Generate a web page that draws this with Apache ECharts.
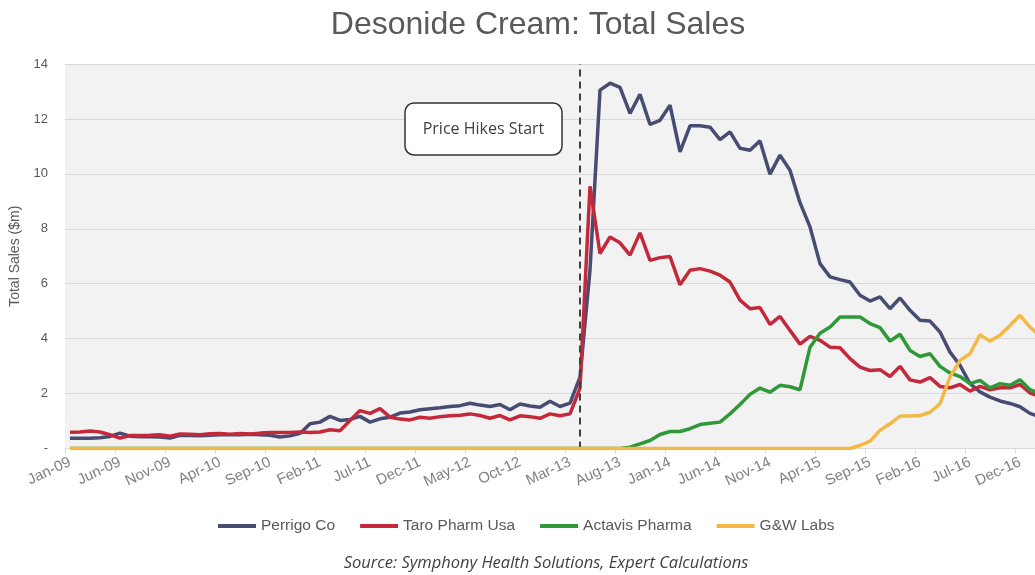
<!DOCTYPE html>
<html>
<head>
<meta charset="utf-8">
<script src="https://cdn.jsdelivr.net/npm/echarts@6/dist/echarts.min.js"></script>
<style>
html,body{margin:0;padding:0;background:#fff;overflow:hidden;}
#chart{width:1045px;height:575px;}
</style>
</head>
<body>
<div id="chart"></div>
<script>
var months = [
 'Jan-09','Feb-09','Mar-09','Apr-09','May-09','Jun-09','Jul-09','Aug-09','Sep-09','Oct-09','Nov-09','Dec-09',
 'Jan-10','Feb-10','Mar-10','Apr-10','May-10','Jun-10','Jul-10','Aug-10','Sep-10','Oct-10','Nov-10','Dec-10',
 'Jan-11','Feb-11','Mar-11','Apr-11','May-11','Jun-11','Jul-11','Aug-11','Sep-11','Oct-11','Nov-11','Dec-11',
 'Jan-12','Feb-12','Mar-12','Apr-12','May-12','Jun-12','Jul-12','Aug-12','Sep-12','Oct-12','Nov-12','Dec-12',
 'Jan-13','Feb-13','Mar-13','Apr-13','May-13','Jun-13','Jul-13','Aug-13','Sep-13','Oct-13','Nov-13','Dec-13',
 'Jan-14','Feb-14','Mar-14','Apr-14','May-14','Jun-14','Jul-14','Aug-14','Sep-14','Oct-14','Nov-14','Dec-14',
 'Jan-15','Feb-15','Mar-15','Apr-15','May-15','Jun-15','Jul-15','Aug-15','Sep-15','Oct-15','Nov-15','Dec-15',
 'Jan-16','Feb-16','Mar-16','Apr-16','May-16','Jun-16','Jul-16','Aug-16','Sep-16','Oct-16','Nov-16','Dec-16',
 'Jan-17','Feb-17'
];

var perrigo = [
 0.37,0.37,0.37,0.39,0.44,0.56,0.45,0.43,0.43,0.42,0.38,0.48,
 0.47,0.46,0.48,0.50,0.50,0.50,0.52,0.50,0.48,0.42,0.46,0.55,
 0.90,0.96,1.17,1.02,1.06,1.17,0.96,1.08,1.14,1.29,1.33,1.41,
 1.45,1.48,1.53,1.56,1.65,1.58,1.53,1.60,1.41,1.62,1.55,1.50,
 1.72,1.53,1.65,2.60,6.50,13.05,13.30,13.15,12.20,12.90,11.80,11.95,
 12.50,10.80,11.75,11.75,11.70,11.25,11.53,10.93,10.86,11.20,9.99,10.68,
 10.13,8.95,8.07,6.73,6.25,6.15,6.06,5.58,5.37,5.52,5.09,5.48,
 5.03,4.67,4.64,4.24,3.51,3.03,2.36,2.06,1.87,1.73,1.64,1.52,
 1.28,1.15
];

var taro = [
 0.59,0.60,0.64,0.60,0.50,0.38,0.47,0.47,0.48,0.50,0.45,0.53,
 0.52,0.50,0.54,0.55,0.52,0.55,0.53,0.56,0.58,0.58,0.58,0.60,
 0.58,0.60,0.68,0.65,1.02,1.38,1.28,1.45,1.14,1.07,1.04,1.14,
 1.10,1.16,1.19,1.21,1.26,1.20,1.10,1.20,1.04,1.19,1.16,1.10,
 1.26,1.19,1.26,2.20,9.55,7.10,7.70,7.49,7.04,7.85,6.85,6.95,
 6.99,5.96,6.49,6.55,6.46,6.31,6.06,5.40,5.09,5.13,4.52,4.81,
 4.30,3.80,4.08,3.94,3.69,3.67,3.27,2.96,2.84,2.87,2.62,2.99,
 2.50,2.42,2.58,2.26,2.21,2.33,2.09,2.26,2.14,2.21,2.21,2.33,
 2.02,1.90
];

var actavis = [
 0,0,0,0,0,0,0,0,0,0,0,0,
 0,0,0,0,0,0,0,0,0,0,0,0,
 0,0,0,0,0,0,0,0,0,0,0,0,
 0,0,0,0,0,0,0,0,0,0,0,0,
 0,0,0,0,0,0,0,0,0.05,0.17,0.29,0.51,
 0.62,0.62,0.72,0.87,0.92,0.96,1.26,1.60,1.97,2.20,2.05,2.30,
 2.25,2.14,3.69,4.20,4.42,4.79,4.79,4.79,4.55,4.40,3.91,4.16,
 3.57,3.35,3.45,2.99,2.75,2.62,2.36,2.48,2.21,2.36,2.30,2.50,
 2.14,2.00
];

var gw = [
 0,0,0,0,0,0,0,0,0,0,0,0,
 0,0,0,0,0,0,0,0,0,0,0,0,
 0,0,0,0,0,0,0,0,0,0,0,0,
 0,0,0,0,0,0,0,0,0,0,0,0,
 0,0,0,0,0,0,0,0,0,0,0,0,
 0,0,0,0,0,0,0,0,0,0,0,0,
 0,0,0,0,0,0,0,0.11,0.27,0.66,0.90,1.18,
 1.18,1.20,1.32,1.63,2.60,3.21,3.45,4.14,3.91,4.12,4.48,4.85,
 4.42,4.10
];

var seriesNames = ['Perrigo Co','Taro Pharm Usa','Actavis Pharma','G&W Labs'];
var seriesColors = ['#484c72','#c4293b','#2f9838','#f4b846'];
var yTicks = {min:0, max:14, interval:2};
var hikeMonth = 'Apr-13';

var chart = echarts.init(document.getElementById('chart'));
var dataSets = [perrigo, taro, actavis, gw];
var series = dataSets.map(function(d, i){
  var s = {
    name: seriesNames[i],
    type: 'line',
    data: d,
    symbol: 'none',
    smooth: false,
    lineStyle: {width: 3.5, color: seriesColors[i]},
    itemStyle: {color: seriesColors[i]},
    z: 2 + i
  };
  if (i === 0) {
    s.markLine = {
      silent: true,
      symbol: ['none','none'],
      label: {show:false},
      lineStyle: {color:'#404040', type:[7,5], width:2},
      data: [{xAxis: hikeMonth}]
    };
  }
  return s;
});

chart.setOption({
  animation: false,
  backgroundColor: '#ffffff',
  title: {
    text: 'Desonide Cream: Total Sales',
    left: 533,
    textAlign: 'center',
    top: 4,
    textStyle: {fontFamily:'Liberation Sans', fontSize:32, fontWeight:'normal', color:'#595959'}
  },
  legend: {
    data: seriesNames,
    left: 213,
    top: 513,
    itemWidth: 38,
    itemHeight: 4,
    itemGap: 25,
    icon: 'rect',
    textStyle: {fontFamily:'Liberation Sans', fontSize:15.5, color:'#595959'}
  },
  grid: {
    left: 65,
    right: 0,
    top: 64,
    bottom: 126.5,
    show: true,
    backgroundColor: '#f2f2f2',
    borderWidth: 0
  },
  xAxis: {
    type: 'category',
    data: months,
    boundaryGap: true,
    axisLine: {show:true, lineStyle:{color:'#d9d9d9'}},
    axisTick: {show:true, interval:4, length:5, lineStyle:{color:'#d9d9d9'}},
    axisLabel: {interval:4, rotate:25, fontFamily:'Liberation Sans', fontSize:15, color:'#808080', margin:13}
  },
  yAxis: {
    type: 'value',
    min: yTicks.min, max: yTicks.max, interval: yTicks.interval,
    name: 'Total Sales ($m)',
    nameLocation: 'middle',
    nameGap: 42,
    nameTextStyle: {fontFamily:'Liberation Sans', fontSize:14, color:'#595959'},
    axisLine: {show:false},
    axisTick: {show:false},
    splitLine: {lineStyle:{color:'#d9d9d9', width:1}},
    axisLabel: {
      fontFamily:'Liberation Sans', fontSize:13, color:'#595959', margin:17,
      formatter: function(v){ return v === 0 ? '-' : String(v); }
    }
  },
  graphic: [
    {
      type: 'rect',
      x: 405, y: 103,
      shape: {x:0, y:0, width:157, height:52, r:9},
      style: {fill:'#ffffff', stroke:'#333333', lineWidth:1.5},
      z: 100
    },
    {
      type: 'text',
      x: 483.5, y: 129,
      style: {text:'Price Hikes Start', font:'16px "Open Sans"', fill:'#404040', textAlign:'center', textVerticalAlign:'middle'},
      z: 101
    },
    {
      type: 'text',
      x: 546, y: 563,
      style: {text:'Source: Symphony Health Solutions, Expert Calculations', font:'italic 16.5px "Open Sans"', fill:'#404040', textAlign:'center', textVerticalAlign:'middle'},
      z: 101
    }
  ],
  series: series
});
</script>
</body>
</html>
